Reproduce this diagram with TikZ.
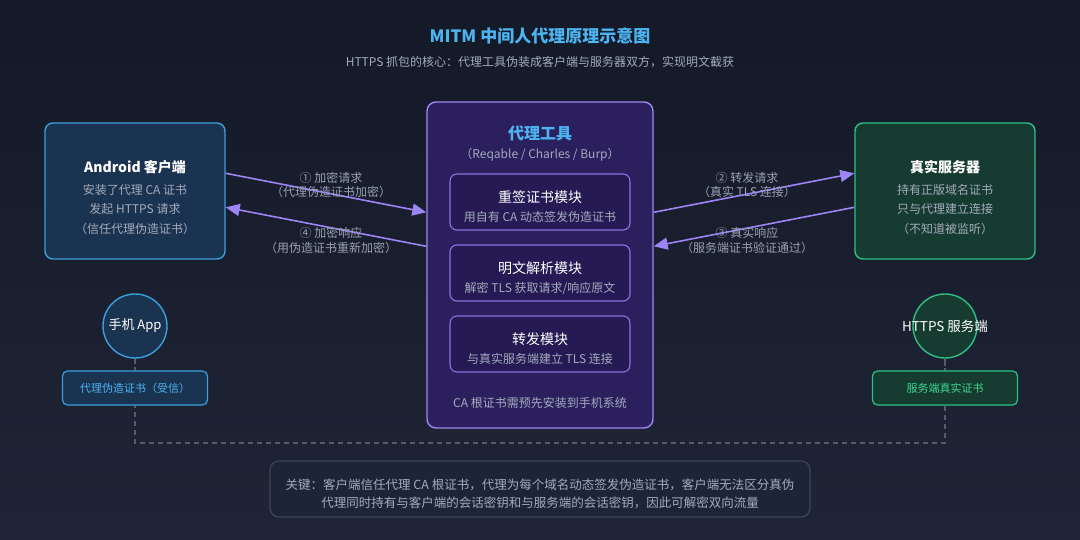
\documentclass[tikz,border=0pt]{standalone}
\usepackage{fontspec}
\setmainfont{Noto Sans CJK SC}
\usetikzlibrary{arrows.meta, calc, positioning}

\definecolor{bgtop}{HTML}{131927}
\definecolor{bgbot}{HTML}{1F2536}
\definecolor{titleblue}{HTML}{4CB4F0}
\definecolor{softgray}{HTML}{A3ABBB}
\definecolor{dimgray}{HTML}{98A0B2}
\definecolor{clifill}{HTML}{1A3350}
\definecolor{cliedge}{HTML}{3B9FDC}
\definecolor{prxfill}{HTML}{2B1F5E}
\definecolor{prxedge}{HTML}{A088F0}
\definecolor{modfill}{HTML}{261A55}
\definecolor{modedge}{HTML}{8C72DE}
\definecolor{srvfill}{HTML}{163B30}
\definecolor{srvedge}{HTML}{2FBF84}
\definecolor{srvtext}{HTML}{3DD68C}
\definecolor{flowcol}{HTML}{9D85F5}
\definecolor{notefill}{HTML}{1C2436}
\definecolor{noteedge}{HTML}{3C4558}
\definecolor{linkgray}{HTML}{555C6C}

\newcommand\fsz[1]{\fontsize{#1pt}{#1pt}\selectfont}

\tikzset{
	panel/.style={draw, rounded corners=8pt, line width=1.4pt, minimum width=180pt, minimum height=136pt},
	module/.style={draw=modedge, fill=modfill, rounded corners=7pt, line width=1.1pt, minimum width=180pt, minimum height=56pt},
	badge/.style={circle, draw, line width=1.4pt, minimum size=64pt, inner sep=0pt},
	tag/.style={draw, rounded corners=5pt, line width=1.2pt, minimum width=145pt, minimum height=34pt, font=\fsz{11}},
	headtext/.style={font=\fsz{14}\bfseries, text=white},
	bodytext/.style={font=\fsz{12}, text=softgray},
	flowtext/.style={font=\fsz{12}, text=dimgray},
	flow/.style={draw=flowcol, line width=1.6pt, -{Triangle[length=14pt,width=12pt]}},
	link/.style={draw=linkgray, line width=1.2pt, dash pattern=on 5pt off 4pt}
}

\begin{document}
\begin{tikzpicture}[x=1pt, y=-1pt]

	\useasboundingbox (0,0) rectangle (1080,540);
	\shade[top color=bgtop, bottom color=bgbot] (0,0) rectangle (1080,540);

	% title
	\node[font=\fsz{17}\bfseries, text=titleblue] (title) at (540,36) {MITM 中间人代理原理示意图};
	\node[font=\fsz{12}, text=softgray] (subtitle) at (540,62) {HTTPS 抓包的核心：代理工具伪装成客户端与服务器双方，实现明文截获};

	% dashed link between the two certificates
	\coordinate (linkL) at (135,443);
	\coordinate (linkR) at (945,443);
	\draw[link] (135,358) -- (linkL) -- (linkR) -- (945,358);

	% three main boxes
	\begin{scope}
		\node[panel, draw=cliedge, fill=clifill] (cli) at (135,191) {};
		\node[panel, draw=srvedge, fill=srvfill] (srv) at (945,191) {};
		\node[draw=prxedge, fill=prxfill, rounded corners=9pt, line width=1.4pt,
			minimum width=226pt, minimum height=326pt] (prx) at (540,265) {};

		\node[headtext] (cliT) at (135,167) {Android 客户端};
		\node[bodytext] (cli1) at (135,190) {安装了代理 CA 证书};
		\node[bodytext] (cli2) at (135,209) {发起 HTTPS 请求};
		\node[bodytext] (cli3) at (135,229) {（信任代理伪造证书）};

		\node[headtext] (srvT) at (945,167) {真实服务器};
		\node[bodytext] (srv1) at (945,190) {持有正版域名证书};
		\node[bodytext] (srv2) at (945,209) {只与代理建立连接};
		\node[bodytext] (srv3) at (945,229) {（不知道被监听）};
	\end{scope}

	% proxy internals
	\begin{scope}
		\node[font=\fsz{16}\bfseries, text=titleblue] (prxT) at (540,133) {代理工具};
		\node[bodytext] (prxS) at (540,155) {（Reqable / Charles / Burp）};

		\node[module] (mSign) at (540,202) {};
		\node[module] (mParse) at (540,273) {};
		\node[module] (mFwd) at (540,344) {};

		\node[headtext, font=\fsz{14}] (mSignT) at (540,197) {重签证书模块};
		\node[bodytext] (mSignS) at (540,217) {用自有 CA 动态签发伪造证书};
		\node[headtext, font=\fsz{14}] (mParseT) at (540,268) {明文解析模块};
		\node[bodytext] (mParseS) at (540,288) {解密 TLS 获取请求/响应原文};
		\node[headtext, font=\fsz{14}] (mFwdT) at (540,339) {转发模块};
		\node[bodytext] (mFwdS) at (540,359) {与真实服务端建立 TLS 连接};

		\node[bodytext] (prxF) at (540,403) {CA 根证书需预先安装到手机系统};
	\end{scope}

	% request / response flows
	\begin{scope}
		\draw[flow] ($(cli.north east)+(0,51)$) -- ($(prx.north west)+(0,111)$);
		\draw[flow] ($(prx.north west)+(0,145)$) -- ($(cli.north east)+(0,85)$);
		\draw[flow] ($(prx.north east)+(0,111)$) -- ($(srv.north west)+(0,51)$);
		\draw[flow] ($(srv.north west)+(0,85)$) -- ($(prx.north east)+(0,145)$);

		\node[flowtext] (f1a) at (331,178) {① 加密请求};
		\node[flowtext] (f1b) at (331,192) {（代理伪造证书加密）};
		\node[flowtext] (f4a) at (331,233) {④ 加密响应};
		\node[flowtext] (f4b) at (331,248) {（用伪造证书重新加密）};
		\node[flowtext] (f2a) at (747,178) {② 转发请求};
		\node[flowtext] (f2b) at (747,192) {（真实 TLS 连接）};
		\node[flowtext] (f3a) at (747,233) {③ 真实响应};
		\node[flowtext] (f3b) at (747,248) {（服务端证书验证通过）};
	\end{scope}

	% endpoints and their certificates
	\begin{scope}
		\node[badge, draw=cliedge, fill=clifill] (app) at (135,326) {};
		\node[font=\fsz{13}, text=white] (appT) at (135,326) {手机 App};
		\node[badge, draw=srvedge, fill=srvfill] (web) at (945,326) {};
		\node[font=\fsz{13.5}, text=white] (webT) at (945,326) {HTTPS 服务端};

		\draw[link] (app.south) -- (135,371);
		\draw[link] (web.south) -- (945,371);

		\node[tag, draw=cliedge, fill=clifill, text=titleblue] (appCert) at (135,388) {代理伪造证书（受信）};
		\node[tag, draw=srvedge, fill=srvfill, text=srvtext] (webCert) at (945,388) {服务端真实证书};
	\end{scope}

	% key note
	\node[draw=noteedge, fill=notefill, rounded corners=9pt, line width=1.2pt,
		minimum width=540pt, minimum height=56pt] (note) at (540,489) {};
	\node[font=\fsz{12.5}, text=softgray, align=center] (noteT) at (540,494)
		{关键：客户端信任代理 CA 根证书，代理为每个域名动态签发伪造证书，客户端无法区分真伪\\[6pt]
		代理同时持有与客户端的会话密钥和与服务端的会话密钥，因此可解密双向流量};

\end{tikzpicture}
\end{document}
